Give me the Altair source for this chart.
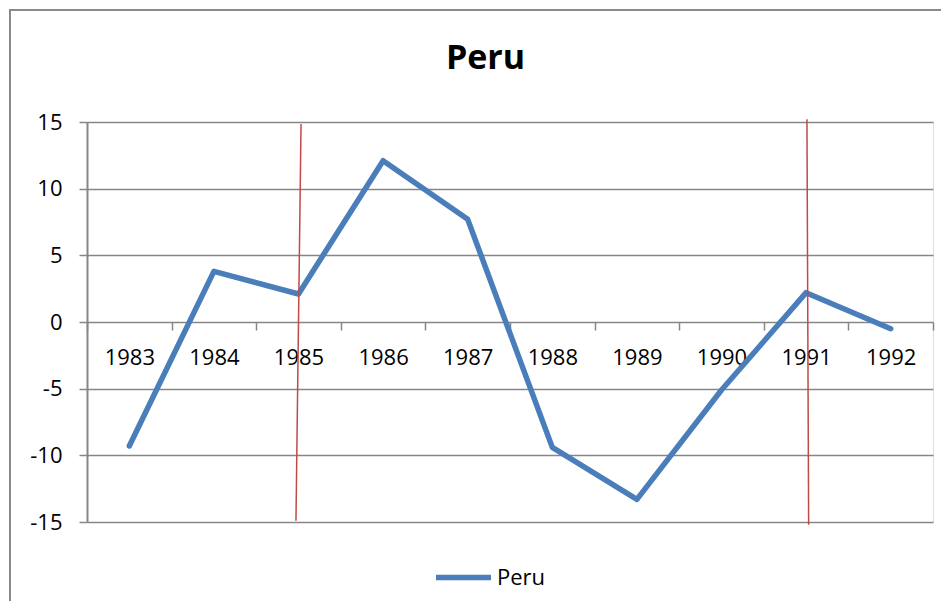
import altair as alt
import pandas as pd

# ---- data ----
title_text = "Peru"
years = [1983, 1984, 1985, 1986, 1987, 1988, 1989, 1990, 1991, 1992]
peru = [-9.3, 3.8, 2.1, 12.1, 7.7, -9.4, -13.3, -5.1, 2.2, -0.5]
series_name = "Peru"

# hand-drawn red marker lines (slightly slanted)
marker_x_top = [1985.03, 1991.01]
marker_x_bottom = [1984.97, 1991.03]
marker_y_top = [14.85, 15.2]
marker_y_bottom = [-14.9, -15.2]

y_ticks = [-15, -10, -5, 0, 5, 10, 15]

df = pd.DataFrame({"year": years, "value": peru, "series": [series_name] * len(years)})
markers = pd.DataFrame({
    "x": marker_x_top, "x2": marker_x_bottom,
    "y": marker_y_top, "y2": marker_y_bottom,
})

# category boundaries and centres on a continuous year scale
x_lo, x_hi = years[0] - 0.5, years[-1] + 0.5
x_values = sorted(set([y - 0.5 for y in years] + years + [x_hi]))

FONT = "Open Sans"
GRAY = "#868686"
BLUE = "#4a7ebb"
RED = "#be4b48"

x_scale = alt.Scale(domain=[x_lo, x_hi], nice=False, zero=False)
y_scale = alt.Scale(domain=[-15, 15], nice=False, zero=False)

x_axis = alt.Axis(
    title=None,
    values=x_values,
    labelExpr="datum.value % 1 == 0 ? '' + datum.value : ''",
    labelOverlap=False,
    labelFlush=False,
    grid=False,
    domain=False,
    offset=-200,
    tickSize=8,
    tickWidth=1.5,
    tickColor=GRAY,
    tickOpacity={"condition": {"test": "datum.value % 1 == 0", "value": 0}, "value": 1},
    labelPadding=17,
    labelFont=FONT,
    labelFontSize=22,
    labelColor="black",
)

y_axis = alt.Axis(
    title=None,
    values=y_ticks,
    labelExpr="'' + datum.value",
    grid=True,
    gridColor=GRAY,
    gridWidth=1.5,
    domain=True,
    domainColor=GRAY,
    domainWidth=2,
    tickSize=8,
    tickWidth=1.5,
    tickColor=GRAY,
    labelPadding=17,
    labelFont=FONT,
    labelFontSize=22,
    labelColor="black",
)

frame = alt.Chart(alt.Data(values=[{}])).mark_rect(
    fill=None, stroke="#8a8a8a", strokeWidth=2
).encode(
    x=alt.value(-77), x2=alt.value(900), y=alt.value(-112), y2=alt.value(650)
)

title = alt.Chart(alt.Data(values=[{"t": title_text}])).mark_text(
    font=FONT, fontSize=34, fontWeight="bold", color="black",
    align="center", baseline="alphabetic",
).encode(
    text="t:N", x=alt.value(398.5), y=alt.value(-53)
)

line = alt.Chart(df).mark_line(strokeWidth=5.5, strokeCap="round", strokeJoin="round").encode(
    x=alt.X("year:Q", scale=x_scale, axis=x_axis),
    y=alt.Y("value:Q", scale=y_scale, axis=y_axis),
    color=alt.Color(
        "series:N",
        scale=alt.Scale(domain=[series_name], range=[BLUE]),
        legend=alt.Legend(
            title=None,
            orient="none",
            legendX=346,
            legendY=425,
            direction="horizontal",
            symbolType="stroke",
            symbolSize=3025,
            symbolStrokeWidth=5.5,
            labelFont=FONT,
            labelFontSize=22,
            labelColor="black",
            labelOffset=3,
            padding=0,
        ),
    ),
)

red = alt.Chart(markers).mark_rule(color=RED, strokeWidth=1.5).encode(
    x=alt.X("x:Q", scale=x_scale),
    x2="x2:Q",
    y=alt.Y("y:Q", scale=y_scale),
    y2="y2:Q",
)

chart = alt.layer(frame, title, line, red).properties(
    width=846,
    height=400,
    autosize=alt.AutoSizeParams(type="none"),
    padding={"left": 79, "top": 114, "right": 8, "bottom": 79},
).configure_view(stroke=None).configure(background="white")

chart.save("out.html", embed_options={"renderer": "svg", "actions": False})
